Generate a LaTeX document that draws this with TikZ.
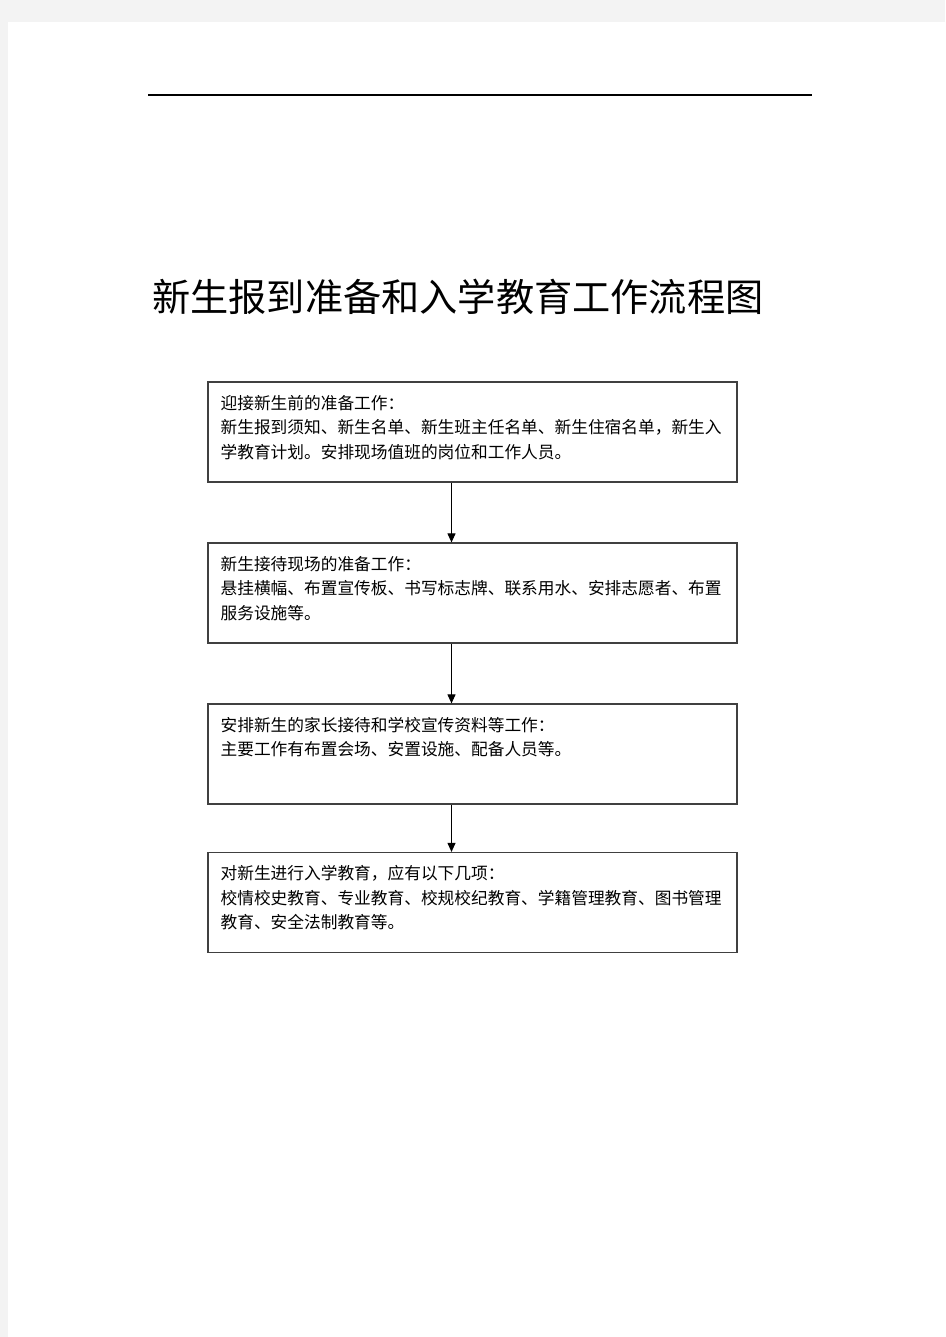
\documentclass[tikz,border=0pt]{standalone}
\usepackage{fontspec}
\setmainfont{Noto Sans CJK SC}
\usetikzlibrary{calc,arrows.meta,positioning}
\definecolor{pagegray}{HTML}{F3F3F3}
\definecolor{boxline}{HTML}{404040}

\begin{document}
\begin{tikzpicture}[x=1pt, y=-1pt,
    stepbox/.style={draw=boxline, line width=1.2pt, minimum width=529pt,
        minimum height=100pt, inner sep=0pt},
    boxtext/.style={anchor=north west, inner sep=0pt, align=left,
        font=\fontsize{16.7}{24.5}\selectfont},
    flow/.style={black, line width=1pt, -{Triangle[length=9pt, width=8pt]}}
]

    % Page.
    \fill[pagegray] (0,0) rectangle (945,1337);
    \fill[white] (8,22) rectangle (945,1337);

    % Header rule.
    \coordinate (ruleL) at (148,95);
    \coordinate (ruleR) at (812,95);
    \draw[black, line width=1.2pt] (ruleL) -- (ruleR);

    % Title.
    \node[anchor=west, inner sep=0pt, font=\fontsize{38.2}{38.2}\selectfont]
        (title) at (152,297) {新生报到准备和入学教育工作流程图};

    % Draw boxes.
    \node[stepbox] (prep)   at (472.5,432)   {};
    \node[stepbox] (site)   at (472.5,593)   {};
    \node[stepbox] (parent) at (472.5,754)   {};
    \node[stepbox] (edu)    at (472.5,902.5) {};

    % box texts
    \node[boxtext, below right=13.5pt and 13pt of prep.north west] (prepT) {%
        迎接新生前的准备工作：\\
        新生报到须知、新生名单、新生班主任名单、新生住宿名单，新生入\\
        学教育计划。安排现场值班的岗位和工作人员。};
    \node[boxtext, below right=13.5pt and 13pt of site.north west] (siteT) {%
        新生接待现场的准备工作：\\
        悬挂横幅、布置宣传板、书写标志牌、联系用水、安排志愿者、布置\\
        服务设施等。};
    \node[boxtext, below right=13.5pt and 13pt of parent.north west] (parentT) {%
        安排新生的家长接待和学校宣传资料等工作：\\
        主要工作有布置会场、安置设施、配备人员等。};
    \node[boxtext, below right=13.5pt and 13pt of edu.north west] (eduT) {%
        对新生进行入学教育，应有以下几项：\\
        校情校史教育、专业教育、校规校纪教育、学籍管理教育、图书管理\\
        教育、安全法制教育等。};

    % arrows
    \foreach \a/\b in {prep/site, site/parent, parent/edu}
    {
        \draw[flow] ([xshift=-21pt]\a.south) -- ([xshift=-21pt]\b.north);
    }

\end{tikzpicture}
\end{document}
